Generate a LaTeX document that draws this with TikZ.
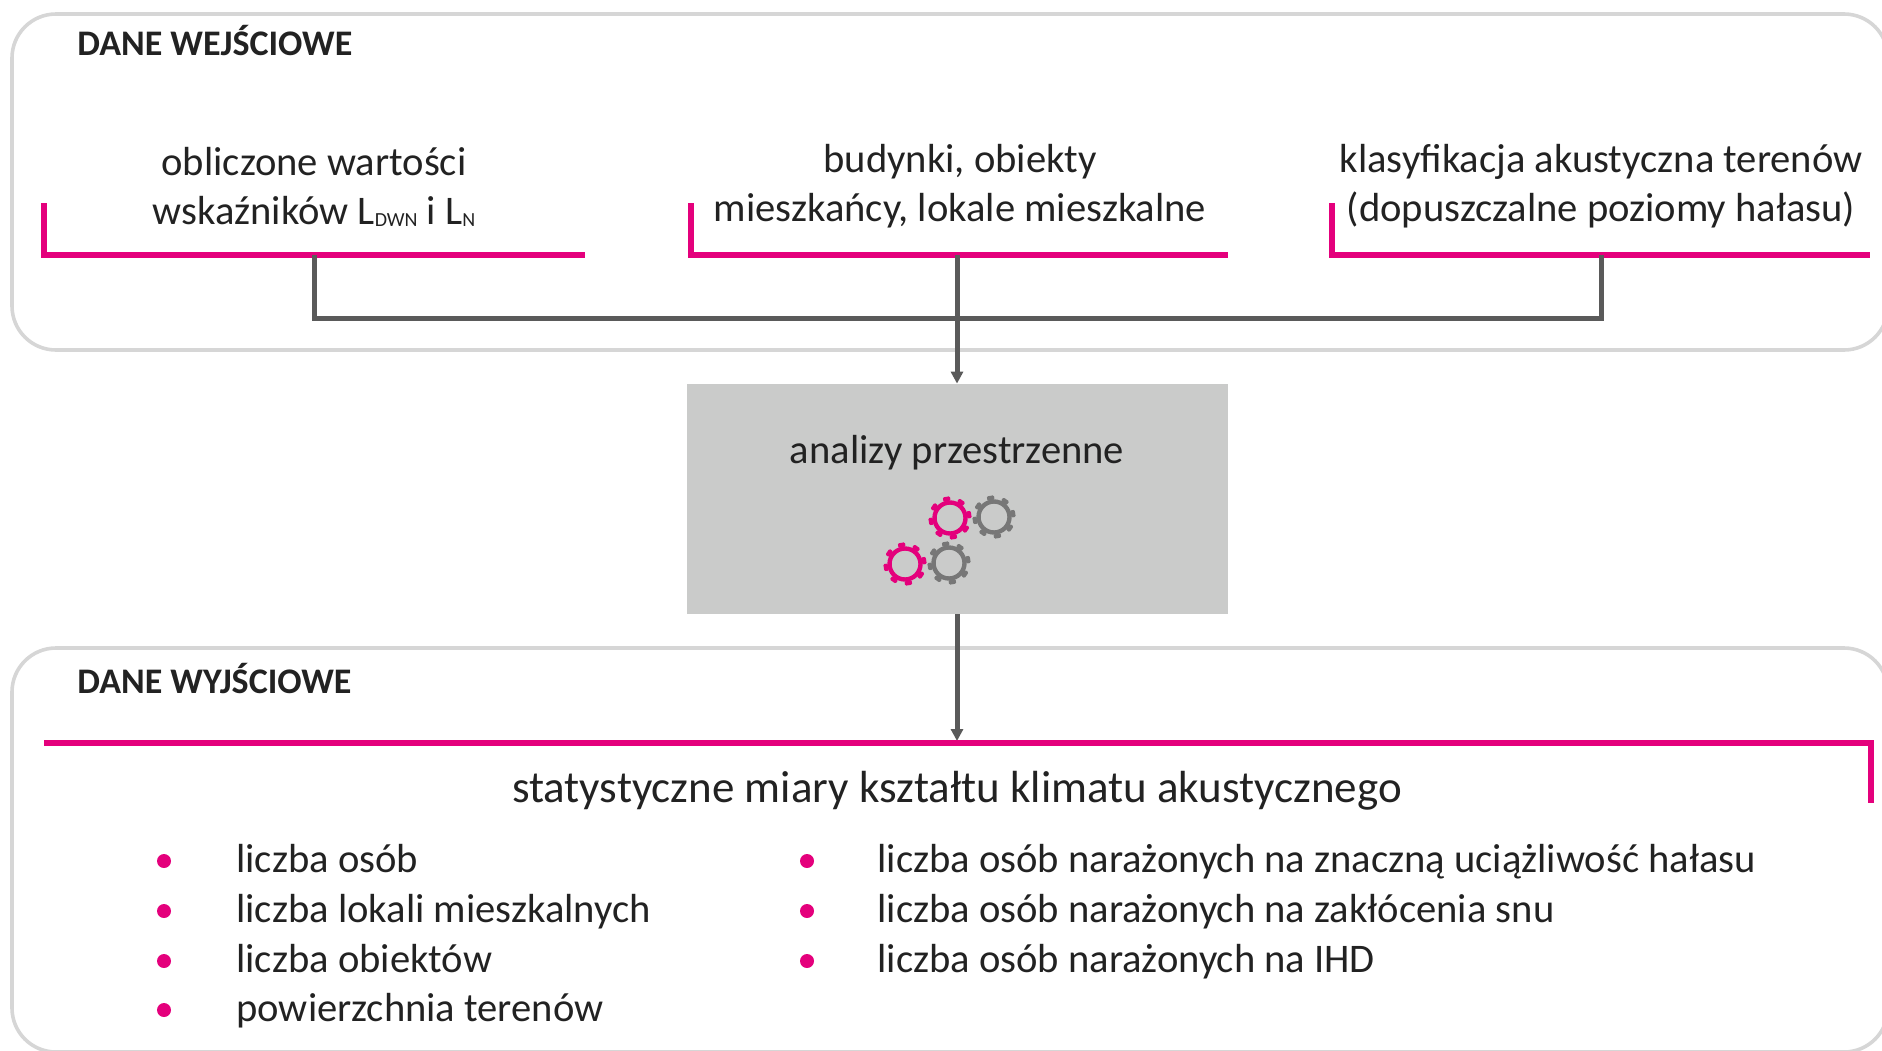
\documentclass[tikz,border=0pt]{standalone}
\usepackage{fontspec}
\setmainfont{Carlito}
\usetikzlibrary{arrows.meta}
\definecolor{pinkc}{HTML}{E4007C}
\definecolor{darkg}{HTML}{5A5A5A}
\definecolor{gearg}{HTML}{777777}
\definecolor{boxg}{HTML}{CACBCA}
\definecolor{bord}{HTML}{D6D6D6}
\definecolor{txt}{HTML}{222222}
\newcommand{\lsub}[1]{\raisebox{-1.2pt}{\fontsize{10}{12}\selectfont #1}}
\tikzset{
  gear/.pic={
    \draw[draw=#1, line width=2.2pt] (0,0) circle[radius=15.5];
    \foreach \a in {0,45,...,315}
      \fill[#1, rotate=\a+10, rounded corners=0.6pt] (-3.6,-21.5) rectangle (3.6,-17);
  }
}
\begin{document}
\begin{tikzpicture}[x=0.5pt,y=-0.5pt,
  panel/.style={draw=bord, line width=1.8pt, rounded corners=22pt},
  bracket/.style={draw=pinkc, line width=3pt},
  link/.style={draw=darkg, line width=2.5pt},
  arr/.style={-{Triangle[length=6pt,width=6pt]}},
  lbl/.style={text=txt, font=\fontsize{20.3}{24.5}\selectfont, align=center, inner sep=0pt},
  head/.style={text=txt, font=\bfseries\fontsize{18}{22}\selectfont, anchor=base west, inner sep=0pt},
  item/.style={text=txt, font=\fontsize{20.3}{24}\selectfont, anchor=base west, inner sep=0pt},
  bigt/.style={text=txt, font=\fontsize{22.5}{27}\selectfont, anchor=base, inner sep=0pt},
  dot/.style={circle, fill=pinkc, minimum size=7pt, inner sep=0pt},
  procbox/.style={fill=boxg, minimum width=270.5pt, minimum height=115pt, inner sep=0pt}
]
\useasboundingbox (0,0) rectangle (1882,1050);
\clip (0,0) rectangle (1882,1050);

% panels
\draw[panel] (12,14) rectangle (1888,350);
\draw[panel] (12,648) rectangle (1888,1052);

% headings
\node[head] (hin) at (77,55) {DANE WEJŚCIOWE};
\node[head] (hout) at (77,693) {DANE WYJŚCIOWE};

% input labels
\node[lbl] (in1) at (314,190) {\strut obliczone wartości\\\strut wskaźników L\lsub{DWN} i L\lsub{N}};
\node[lbl] (in2) at (960,187.5) {\strut budynki, obiekty\\\strut mieszkańcy, lokale mieszkalne};
\node[lbl] (in3) at (1601,187.5) {\strut klasyfikacja akustyczna terenów\\\strut (dopuszczalne poziomy hałasu)};

% pink brackets
\coordinate (b1) at (314,255);
\coordinate (b2) at (957,255);
\coordinate (b3) at (1601,255);
\draw[bracket] (44,203) -- (44,255) -- (585,255);
\draw[bracket] (691,203) -- (691,255) -- (1228,255);
\draw[bracket] (1332,203) -- (1332,255) -- (1870,255);

% process box
\node[procbox] (proc) at (957,499) {};
\node[lbl, anchor=base] (proct) at (957,463) {analizy przestrzenne};
\pic at (950,518) {gear=pinkc};
\pic at (994,517) {gear=gearg};
\pic at (905,564) {gear=pinkc};
\pic at (949,563) {gear=gearg};

% connectors
\draw[link] (b1) -- ++(0,63) -| (b3);
\draw[link, arr] (b2) -- (proc.north);

% output
\coordinate (outtop) at (957,741);
\draw[link, arr] (proc.south) -- (outtop);
\draw[bracket] (44,743) -- (1871,743) -- (1871,803);
\node[bigt] (stat) at (957,802) {statystyczne miary kształtu klimatu akustycznego};

\node[dot] (d1) at (164,861) {};
\node[dot] (d2) at (164,911) {};
\node[dot] (d3) at (164,961) {};
\node[dot] (d4) at (164,1010) {};
\node[item] (i1) at (236,872) {liczba osób};
\node[item] (i2) at (236,922) {liczba lokali mieszkalnych};
\node[item] (i3) at (236,972) {liczba obiektów};
\node[item] (i4) at (236,1021) {powierzchnia terenów};

\node[dot] (e1) at (807,861) {};
\node[dot] (e2) at (807,911) {};
\node[dot] (e3) at (807,961) {};
\node[item] (j1) at (877,872) {liczba osób narażonych na znaczną uciążliwość hałasu};
\node[item] (j2) at (877,922) {liczba osób narażonych na zakłócenia snu};
\node[item] (j3) at (877,972) {liczba osób narażonych na IHD};
\end{tikzpicture}
\end{document}
